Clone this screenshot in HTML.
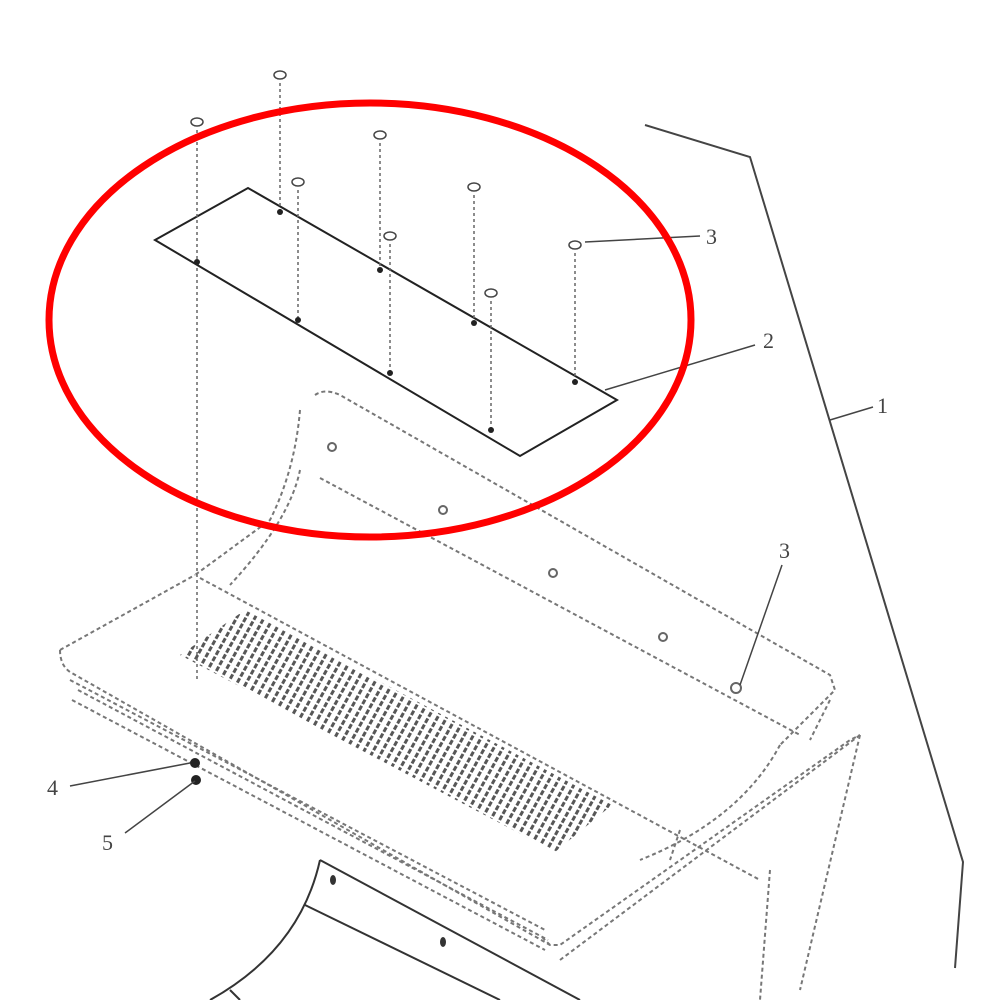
<!DOCTYPE html>
<html><head><style>body{margin:0;background:#fff}svg{display:block}text{font-family:"Liberation Serif",serif;font-size:22px;fill:#444}</style></head>
<body>
<svg width="1000" height="1000" viewBox="0 0 1000 1000" xmlns="http://www.w3.org/2000/svg">
<defs>
<pattern id="g" width="8" height="7" patternUnits="userSpaceOnUse" patternTransform="rotate(29)">
<rect x="1" y="1" width="3" height="5" fill="#444"/>
</pattern>
</defs>
<g fill="none" stroke="#777" stroke-width="2" stroke-dasharray="4 3">
<path d="M60,650 L195,575 M60,650 Q60,665 70,672 L550,945 L560,945 L850,740 L860,735 M550,945 L540,935"/>
<path d="M70,680 L545,930"/>
<path d="M78,690 L548,940"/>
<path d="M72,700 L545,950"/>
<path d="M315,395 Q325,388 340,395 L830,675 L835,690 L780,745"/>
<path d="M300,410 Q295,470 270,520 L195,575"/>
<path d="M320,478 L800,735"/>
<path d="M300,470 Q290,520 230,585"/>
<path d="M200,578 L760,880"/>
<path d="M780,745 Q740,820 640,860"/>
<path d="M860,735 L800,990 M770,870 L760,1000 M680,830 L670,860 M830,700 L810,740"/>
<path d="M560,960 L860,735"/>
</g>
<polygon points="180,655 245,610 612,805 555,852" fill="url(#g)" opacity="0.9"/>
<g fill="none" stroke="#666" stroke-width="2">
<circle cx="332" cy="447" r="4"/><circle cx="443" cy="510" r="4"/><circle cx="553" cy="573" r="4"/><circle cx="663" cy="637" r="4"/><circle cx="736" cy="688" r="5"/>
</g>
<g fill="none" stroke="#333" stroke-width="2">
<path d="M320,860 L580,1000"/>
<path d="M305,905 L500,1000"/>
<path d="M320,860 Q300,950 210,1000"/>
<path d="M230,990 L240,1000"/>
</g>
<ellipse cx="333" cy="880" rx="3" ry="5" fill="#333"/><ellipse cx="443" cy="942" rx="3" ry="5" fill="#333"/>
<polygon points="155,240 248,188 617,400 520,456" fill="none" stroke="#222" stroke-width="2"/>
<g stroke="#666" stroke-width="1.5" stroke-dasharray="3 3">
<line x1="197" y1="130" x2="197" y2="680"/><line x1="280" y1="83" x2="280" y2="212"/>
<line x1="380" y1="143" x2="380" y2="270"/><line x1="298" y1="190" x2="298" y2="320"/>
<line x1="474" y1="195" x2="474" y2="323"/><line x1="390" y1="244" x2="390" y2="373"/>
<line x1="575" y1="253" x2="575" y2="382"/><line x1="491" y1="301" x2="491" y2="430"/>
</g>
<g fill="#fff" stroke="#444" stroke-width="1.5">
<ellipse cx="197" cy="122" rx="6" ry="4"/><ellipse cx="280" cy="75" rx="6" ry="4"/><ellipse cx="380" cy="135" rx="6" ry="4"/><ellipse cx="298" cy="182" rx="6" ry="4"/><ellipse cx="474" cy="187" rx="6" ry="4"/><ellipse cx="390" cy="236" rx="6" ry="4"/><ellipse cx="575" cy="245" rx="6" ry="4"/><ellipse cx="491" cy="293" rx="6" ry="4"/>
</g>
<g fill="#222">
<circle cx="280" cy="212" r="3"/><circle cx="197" cy="262" r="3"/><circle cx="380" cy="270" r="3"/><circle cx="298" cy="320" r="3"/><circle cx="474" cy="323" r="3"/><circle cx="390" cy="373" r="3"/><circle cx="575" cy="382" r="3"/><circle cx="491" cy="430" r="3"/>
<circle cx="195" cy="763" r="5"/><circle cx="196" cy="780" r="5"/>
</g>
<g stroke="#444" stroke-width="1.5" fill="none">
<line x1="585" y1="242" x2="700" y2="236"/>
<line x1="605" y1="390" x2="755" y2="345"/>
<line x1="830" y1="420" x2="873" y2="407"/>
<line x1="782" y1="565" x2="740" y2="685"/>
<line x1="70" y1="786" x2="190" y2="763"/>
<line x1="125" y1="833" x2="195" y2="781"/>
<polyline points="645,125 750,157 963,862 955,968" stroke-width="2"/>
</g>
<text x="706" y="244">3</text><text x="763" y="348">2</text><text x="877" y="413">1</text>
<text x="779" y="558">3</text><text x="47" y="795">4</text><text x="102" y="850">5</text>
<ellipse cx="370" cy="320" rx="321" ry="217" fill="none" stroke="#f00" stroke-width="7"/>
</svg>
</body></html>
